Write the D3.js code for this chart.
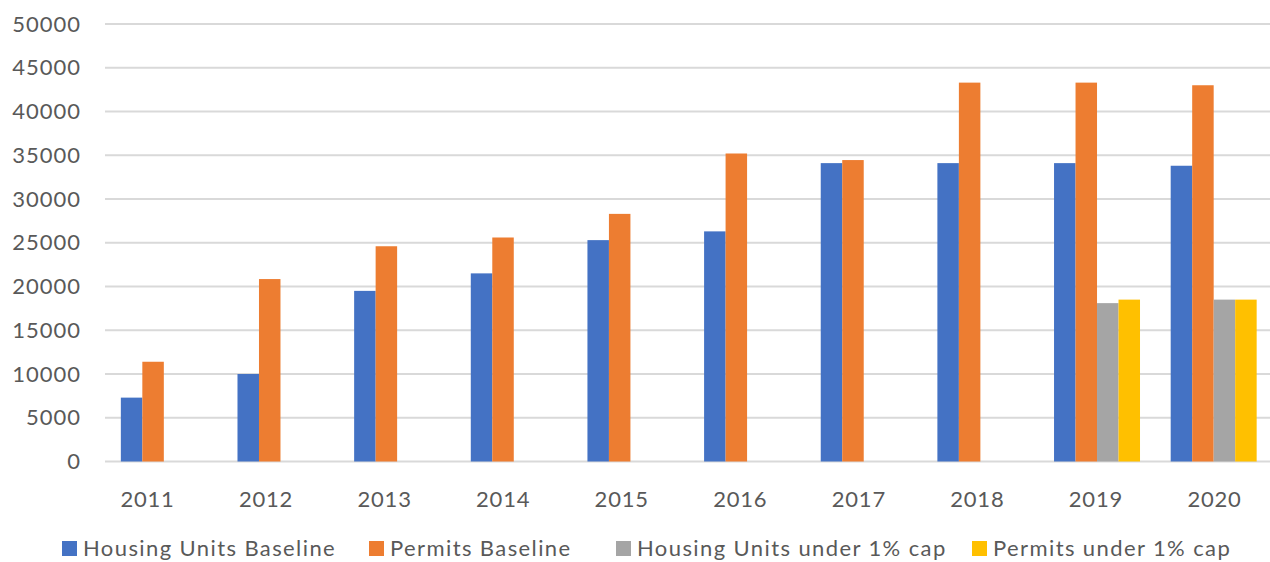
<!DOCTYPE html>
<html>
<head>
<meta charset="utf-8">
<script src="https://cdn.jsdelivr.net/npm/d3@7"></script>
<style>
  html, body { margin: 0; padding: 0; background: #fff; }
  svg text { font-family: Lato, "Open Sans", sans-serif; fill: #595959; }
</style>
</head>
<body>
<div id="chart"></div>
<script>
const years = ['2011', '2012', '2013', '2014', '2015', '2016', '2017', '2018', '2019', '2020'];
const housingBaseline = [7300, 10000, 19500, 21500, 25300, 26300, 34100, 34100, 34100, 33800];
const permitsBaseline = [11400, 20850, 24600, 25600, 28300, 35200, 34450, 43300, 43300, 43000];
const housingCap = [null, null, null, null, null, null, null, null, 18100, 18500];
const permitsCap = [null, null, null, null, null, null, null, null, 18500, 18500];
const yTicks = [0, 5000, 10000, 15000, 20000, 25000, 30000, 35000, 40000, 45000, 50000];

const seriesNames = ['Housing Units Baseline', 'Permits Baseline', 'Housing Units under 1% cap', 'Permits under 1% cap'];
const seriesColors = ['#4472C4', '#ED7D31', '#A5A5A5', '#FFC000'];
const seriesValues = [housingBaseline, permitsBaseline, housingCap, permitsCap];

const width = 1270, height = 562;
const svg = d3.select('#chart').append('svg')
    .attr('width', width)
    .attr('height', height);

const y = d3.scaleLinear().domain([0, 50000]).range([461.5, 24]);

const x = d3.scaleBand()
    .domain(years)
    .range([105.5, 1272])
    .paddingInner(0.263)
    .paddingOuter(0.1315);

const xSub = d3.scaleBand()
    .domain(seriesNames)
    .range([0, x.bandwidth()]);

// labels sit a bit off the group centres in the original
const xLabel = d3.scalePoint().domain(years).range([147.5, 1214.5]);

// gridlines
svg.append('g')
    .selectAll('line')
    .data(yTicks)
    .join('line')
    .attr('x1', 105)
    .attr('x2', width)
    .attr('y1', d => y(d))
    .attr('y2', d => y(d))
    .attr('stroke', '#d9d9d9')
    .attr('stroke-width', 2);

// y labels
svg.append('g')
    .selectAll('text')
    .data(yTicks)
    .join('text')
    .attr('x', 81)
    .attr('y', d => y(d))
    .attr('dy', '0.35em')
    .attr('text-anchor', 'end')
    .style('font-size', '22px')
    .style('letter-spacing', '1px')
    .text(d => d);

// bars
const rows = years.map((yr, i) => ({
    year: yr,
    vals: seriesNames.map((s, j) => ({ name: s, value: seriesValues[j][i], color: seriesColors[j] }))
}));

svg.append('g')
    .selectAll('g')
    .data(rows)
    .join('g')
    .attr('transform', d => `translate(${x(d.year)},0)`)
    .selectAll('rect')
    .data(d => d.vals.filter(v => v.value != null))
    .join('rect')
    .attr('x', d => xSub(d.name))
    .attr('width', xSub.bandwidth())
    .attr('y', d => y(d.value))
    .attr('height', d => y(0) - y(d.value))
    .attr('fill', d => d.color);

// x labels
svg.append('g')
    .selectAll('text')
    .data(years)
    .join('text')
    .attr('x', d => xLabel(d))
    .attr('y', 507)
    .attr('text-anchor', 'middle')
    .style('font-size', '22px')
    .style('letter-spacing', '0.8px')
    .text(d => d);

// legend
const legendX = [62, 369, 616, 972];
const legend = svg.append('g')
    .selectAll('g')
    .data(seriesNames)
    .join('g')
    .attr('transform', (d, i) => `translate(${legendX[i]},541)`);

legend.append('rect')
    .attr('width', 15)
    .attr('height', 15)
    .attr('fill', (d, i) => seriesColors[i]);

legend.append('text')
    .attr('x', 21)
    .attr('y', 15)
    .style('font-size', '22px')
    .style('letter-spacing', '1.4px')
    .text(d => d);
</script>
</body>
</html>
